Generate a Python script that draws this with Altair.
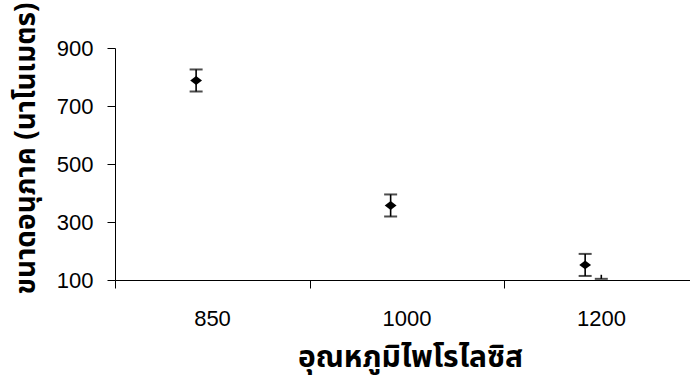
import altair as alt
import pandas as pd

# Particle size vs. pyrolysis temperature
categories = ["850", "1000", "1200"]
size_mean = [788, 357, 152]
size_err = [38, 38, 38]

# second series: only a lower error bar shows above the axis at 1200
second_index = [2]
second_mean = [118]
second_err_minus = [14]

main = pd.DataFrame({
    "cat": categories,
    "i": list(range(len(categories))),
    "mean": size_mean,
    "err": size_err,
})
second = pd.DataFrame({
    "i": second_index,
    "mean": second_mean,
    "err": second_err_minus,
})

label_list = ",".join("'" + c + "'" for c in categories)
label_expr = "[" + label_list + "][datum.value]"

AXIS_FONT = "Arial, Liberation Sans, sans-serif"
THAI_FONT = "Noto Sans Thai, Tahoma, Loma, Garuda, sans-serif"

x_scale = alt.Scale(domain=[0, 2.956], nice=False, zero=False)
y_scale = alt.Scale(domain=[100, 900], nice=False, zero=False)

x_axis = alt.Axis(
    values=[0, 1, 2],
    labelExpr=label_expr,
    labelOffset=97,
    labelFlush=False,
    labelAlign="center",
    labelFont=AXIS_FONT,
    labelFontSize=22,
    labelColor="black",
    labelPadding=20,
    labelBaseline="top",
    tickSize=8,
    tickColor="black",
    domainColor="black",
    grid=False,
    title="อุณหภูมิไพโรไลซิส",
    titleFont=THAI_FONT,
    titleFontSize=30,
    titleFontWeight="bold",
    titleColor="black",
    titleX=295,
    titleY=77,
    titleAlign="center",
    titleBaseline="middle",
)

y_axis = alt.Axis(
    values=[100, 300, 500, 700, 900],
    labelFont=AXIS_FONT,
    labelFontSize=22,
    labelColor="black",
    labelPadding=14,
    tickSize=8,
    tickColor="black",
    domainColor="black",
    grid=False,
    title="ขนาดอนุภาค (นาโนเมตร)",
    titleFont=THAI_FONT,
    titleFontSize=28,
    titleFontWeight="bold",
    titleColor="black",
    titleAngle=270,
    titleX=-89,
    titleY=100,
    titleAlign="center",
    titleBaseline="middle",
)

base = alt.Chart(main).transform_calculate(
    x="datum.i + 0.5 - 0.083",
    lo="datum.mean - datum.err",
    hi="datum.mean + datum.err",
)

stems = base.mark_rule(color="black", strokeWidth=1.6).encode(
    x=alt.X("x:Q", scale=x_scale, axis=x_axis),
    y=alt.Y("lo:Q", scale=y_scale, axis=y_axis),
    y2="hi:Q",
)
caps_hi = base.mark_tick(orient="horizontal", size=13, thickness=2, color="black").encode(
    x="x:Q", y="hi:Q"
)
caps_lo = base.mark_tick(orient="horizontal", size=13, thickness=2, color="black").encode(
    x="x:Q", y="lo:Q"
)
points = base.mark_point(
    shape="M -1 0 L 0 -0.75 L 1 0 L 0 0.75 Z",
    filled=True,
    size=140,
    color="black",
    opacity=1,
).encode(x="x:Q", y="mean:Q")

base2 = alt.Chart(second).transform_calculate(
    x="datum.i + 0.5",
    lo="datum.mean - datum.err",
)
stem2 = base2.mark_rule(color="black", strokeWidth=1.6).encode(
    x="x:Q", y="lo:Q", y2="mean:Q"
)
cap2 = base2.mark_tick(orient="horizontal", size=13, thickness=2, color="black").encode(
    x="x:Q", y="lo:Q"
)

chart = alt.layer(stems, caps_hi, caps_lo, points, stem2, cap2).properties(
    width=575,
    height=232,
    autosize=alt.AutoSizeParams(type="none"),
    padding={"left": 115, "top": 48, "right": 0, "bottom": 99},
    background="white",
).configure_view(stroke=None)

chart.save("out.html", embed_options={"renderer": "svg", "actions": False})
